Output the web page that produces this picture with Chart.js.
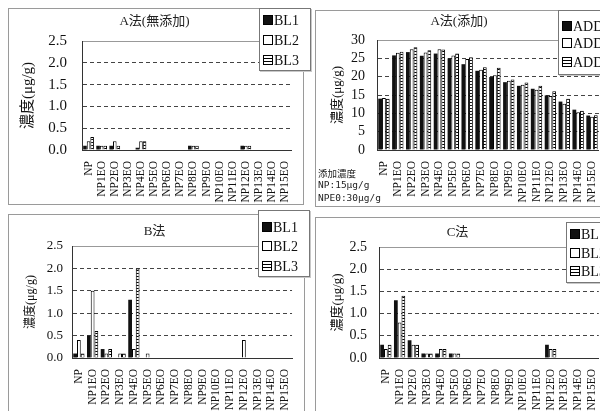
<!DOCTYPE html>
<html>
<head>
<meta charset="utf-8">
<script src="https://cdn.jsdelivr.net/npm/chart.js@4.4.0/dist/chart.umd.min.js"></script>
<style>
  body { margin: 0; width: 600px; height: 411px; overflow: hidden; background: #fff; position: relative;
         font-family: "Liberation Serif", "Noto Sans CJK JP", serif; color: #111; }
  .frame { position: absolute; border: 1px solid #9a9a9a; }
  canvas { position: absolute; }
  .legend { position: absolute; background: #fff; border: 1px solid #777; box-shadow: 1px 1px 0 #c8c8c8; font-size: 14px; }
  .legend div { position: absolute; left: 3px; height: 16px; line-height: 16px; white-space: nowrap; }
  .sw { display: inline-block; width: 8px; height: 8px; border: 1px solid #000; margin-right: 1px; vertical-align: 0; }
  .s1 { background: #111; }
  .s2 { background: #fff; }
  .s3 { background: repeating-linear-gradient(to bottom, #fff 0 2px, #000 2px 3px); }
  .note { position: absolute; left: 318px; font-family: "DejaVu Sans Mono", "Noto Sans CJK JP", monospace; font-size: 9.5px; color: #222; white-space: nowrap; }
</style>
</head>
<body>
<div class="frame" style="left:8px;top:8px;width:294px;height:195px"></div>
<div class="frame" style="left:315px;top:10px;width:300px;height:195px"></div>
<div class="frame" style="left:8px;top:214px;width:295px;height:210px"></div>
<div class="frame" style="left:315px;top:217px;width:300px;height:210px"></div>

<canvas id="cA0" width="294" height="197" style="left:8px;top:8px"></canvas>
<canvas id="cA1" width="294" height="196" style="left:315px;top:10px"></canvas>
<canvas id="cB" width="294" height="197" style="left:8px;top:214px"></canvas>
<canvas id="cC" width="294" height="194" style="left:315px;top:217px"></canvas>

<div class="note" style="top:166px">添加濃度</div>
<div class="note" style="top:179px">NP:15μg/g</div>
<div class="note" style="top:192px">NPE0:30μg/g</div>

<div id="lgA0" class="legend" style="left:259px;top:8px;width:50px;height:61px"></div>
<div id="lgA1" class="legend" style="left:558px;top:10px;width:60px;height:63px"></div>
<div id="lgB" class="legend" style="left:258px;top:210px;width:50px;height:65px"></div>
<div id="lgC" class="legend" style="left:566px;top:222px;width:50px;height:59px"></div>

<script>
const categories = ['NP', 'NP1EO', 'NP2EO', 'NP3EO', 'NP4EO', 'NP5EO', 'NP6EO', 'NP7EO',
  'NP8EO', 'NP9EO', 'NP10EO', 'NP11EO', 'NP12EO', 'NP13EO', 'NP14EO', 'NP15EO'];
const blNames = ['BL1', 'BL2', 'BL3'];
const addNames = ['ADD1', 'ADD2', 'ADD3'];

// A法（無添加）
const aBlank1 = [0.1, 0.1, 0.1, 0, 0.05, 0, 0, 0, 0.1, 0, 0, 0, 0.1, 0, 0, 0];
const aBlank2 = [0.2, 0.1, 0.2, 0, 0.2, 0, 0, 0, 0.1, 0, 0, 0, 0.1, 0, 0, 0];
const aBlank3 = [0.3, 0.1, 0.1, 0, 0.2, 0, 0, 0, 0.1, 0, 0, 0, 0.1, 0, 0, 0];
// A法（添加）
const aAdd1 = [14.0, 25.8, 26.7, 25.7, 26.3, 25.0, 23.4, 21.6, 19.9, 18.5, 17.5, 16.7, 14.9, 13.2, 11.0, 9.4];
const aAdd2 = [14.2, 26.5, 27.5, 26.6, 27.5, 25.8, 24.8, 21.9, 20.4, 18.9, 17.8, 16.4, 14.7, 12.6, 10.3, 9.1];
const aAdd3 = [14.0, 26.8, 28.0, 27.2, 27.4, 26.3, 25.3, 22.6, 22.4, 19.2, 18.4, 17.5, 16.0, 14.0, 10.7, 9.5];
// B法
const b1 = [0.1, 0.5, 0.2, 0, 1.3, 0, 0, 0, 0, 0, 0, 0, 0, 0, 0, 0];
const b2 = [0.4, 1.5, 0.1, 0.1, 0.2, 0.1, 0, 0, 0, 0, 0, 0, 0.4, 0, 0, 0];
const b3 = [0.1, 0.6, 0.2, 0.1, 2.0, 0, 0, 0, 0, 0, 0, 0, 0, 0, 0, 0];
// C法
const c1 = [0.3, 1.3, 0.4, 0.1, 0.1, 0.1, 0, 0, 0, 0, 0, 0, 0.3, 0, 0, 0];
const c2 = [0.2, 0.8, 0.3, 0.1, 0.2, 0.1, 0, 0, 0, 0, 0, 0, 0.2, 0, 0, 0];
const c3 = [0.3, 1.4, 0.3, 0.1, 0.2, 0.1, 0, 0, 0, 0, 0, 0, 0.2, 0, 0, 0];

Chart.defaults.font.family = '"Liberation Serif", "Noto Sans CJK JP", serif';
Chart.defaults.color = '#111';

// striped fill for the third series
const pc = document.createElement('canvas');
pc.width = 4; pc.height = 3;
const pctx = pc.getContext('2d');
pctx.fillStyle = '#fff'; pctx.fillRect(0, 0, 4, 3);
pctx.fillStyle = '#000'; pctx.fillRect(0, 2, 4, 1);
const stripes = pctx.createPattern(pc, 'repeat');

const styles = [
  { backgroundColor: '#111', borderColor: '#111', borderWidth: 0 },
  { backgroundColor: '#fff', borderColor: '#000', borderWidth: 1 },
  { backgroundColor: stripes, borderColor: '#000', borderWidth: 1 }
];

function makeChart(id, c) {
  new Chart(document.getElementById(id), {
    type: 'bar',
    data: {
      labels: categories,
      datasets: c.series.map((v, i) => Object.assign({ label: c.names[i], data: v }, styles[i]))
    },
    options: {
      responsive: false,
      animation: false,
      datasets: { bar: { barPercentage: 1, categoryPercentage: 0.82 } },
      layout: { padding: { left: 0, right: c.padRight, top: 0, bottom: 0 } },
      plugins: {
        legend: { display: false },
        tooltip: { enabled: false },
        title: {
          display: true, text: c.title, color: '#222',
          font: { size: 13, weight: 'normal' },
          padding: { top: c.tTop, bottom: c.tBottom }
        }
      },
      scales: {
        x: {
          grid: { display: false },
          border: { color: '#333', width: 1 },
          ticks: { minRotation: 90, maxRotation: 90, autoSkip: false, padding: 3, font: { size: 11.5 } },
          afterFit: s => { s.height = c.xH; }
        },
        y: {
          min: 0, max: c.max,
          ticks: { stepSize: c.step, autoSkip: false, padding: c.tickPad, font: { size: c.tickSize }, callback: c.fmt },
          grid: { drawTicks: false, color: t => (t.tick && t.tick.value === c.max) ? '#999' : '#444' },
          border: { color: '#333', width: 1,
            dash: t => (t.tick && t.tick.value > 0 && t.tick.value < c.max) ? [4, 3] : [] },
          title: { display: true, text: '濃度(μg/g)', font: { size: c.ySize }, padding: { top: c.yPad, bottom: 0 } },
          afterFit: s => { s.width = c.yW; }
        }
      }
    }
  });
}

function makeLegend(id, names, rows) {
  const el = document.getElementById(id);
  names.forEach((n, i) => {
    const d = document.createElement('div');
    d.style.top = rows[i] + 'px';
    d.innerHTML = '<span class="sw s' + (i + 1) + '"></span>' + n;
    el.appendChild(d);
  });
}

const fmt1 = v => v.toFixed(1);
const fmt0 = v => String(v);

makeChart('cA0', { title: 'A法(無添加)', names: blNames, series: [aBlank1, aBlank2, aBlank3],
  max: 2.5, step: 0.5, fmt: fmt1, padRight: 1, tTop: 6, tBottom: 11.4, xH: 55,
  yW: 74, tickPad: 15, tickSize: 15, ySize: 15, yPad: 11 });
makeChart('cA1', { title: 'A法(添加)', names: addNames, series: [aAdd1, aAdd2, aAdd3],
  max: 30, step: 5, fmt: fmt0, padRight: 6, tTop: 4.2, tBottom: 10.2, xH: 56,
  yW: 62, tickPad: 12, tickSize: 14, ySize: 13, yPad: 15 });
makeChart('cB', { title: 'B法', names: blNames, series: [b1, b2, b3],
  max: 2.5, step: 0.5, fmt: fmt1, padRight: 1, tTop: 10.2, tBottom: 6.2, xH: 53,
  yW: 64, tickPad: 9, tickSize: 13, ySize: 12, yPad: 16 });
makeChart('cC', { title: 'C法', names: blNames, series: [c1, c2, c3],
  max: 2.5, step: 0.5, fmt: fmt1, padRight: 9, tTop: 8.2, tBottom: 6.2, xH: 53,
  yW: 64, tickPad: 12, tickSize: 14, ySize: 13, yPad: 15 });

makeLegend('lgA0', blNames, [4, 24, 44]);
makeLegend('lgA1', addNames, [8, 25, 44]);
makeLegend('lgB', blNames, [9, 28, 48]);
makeLegend('lgC', blNames, [4, 23, 41]);
</script>
</body>
</html>
